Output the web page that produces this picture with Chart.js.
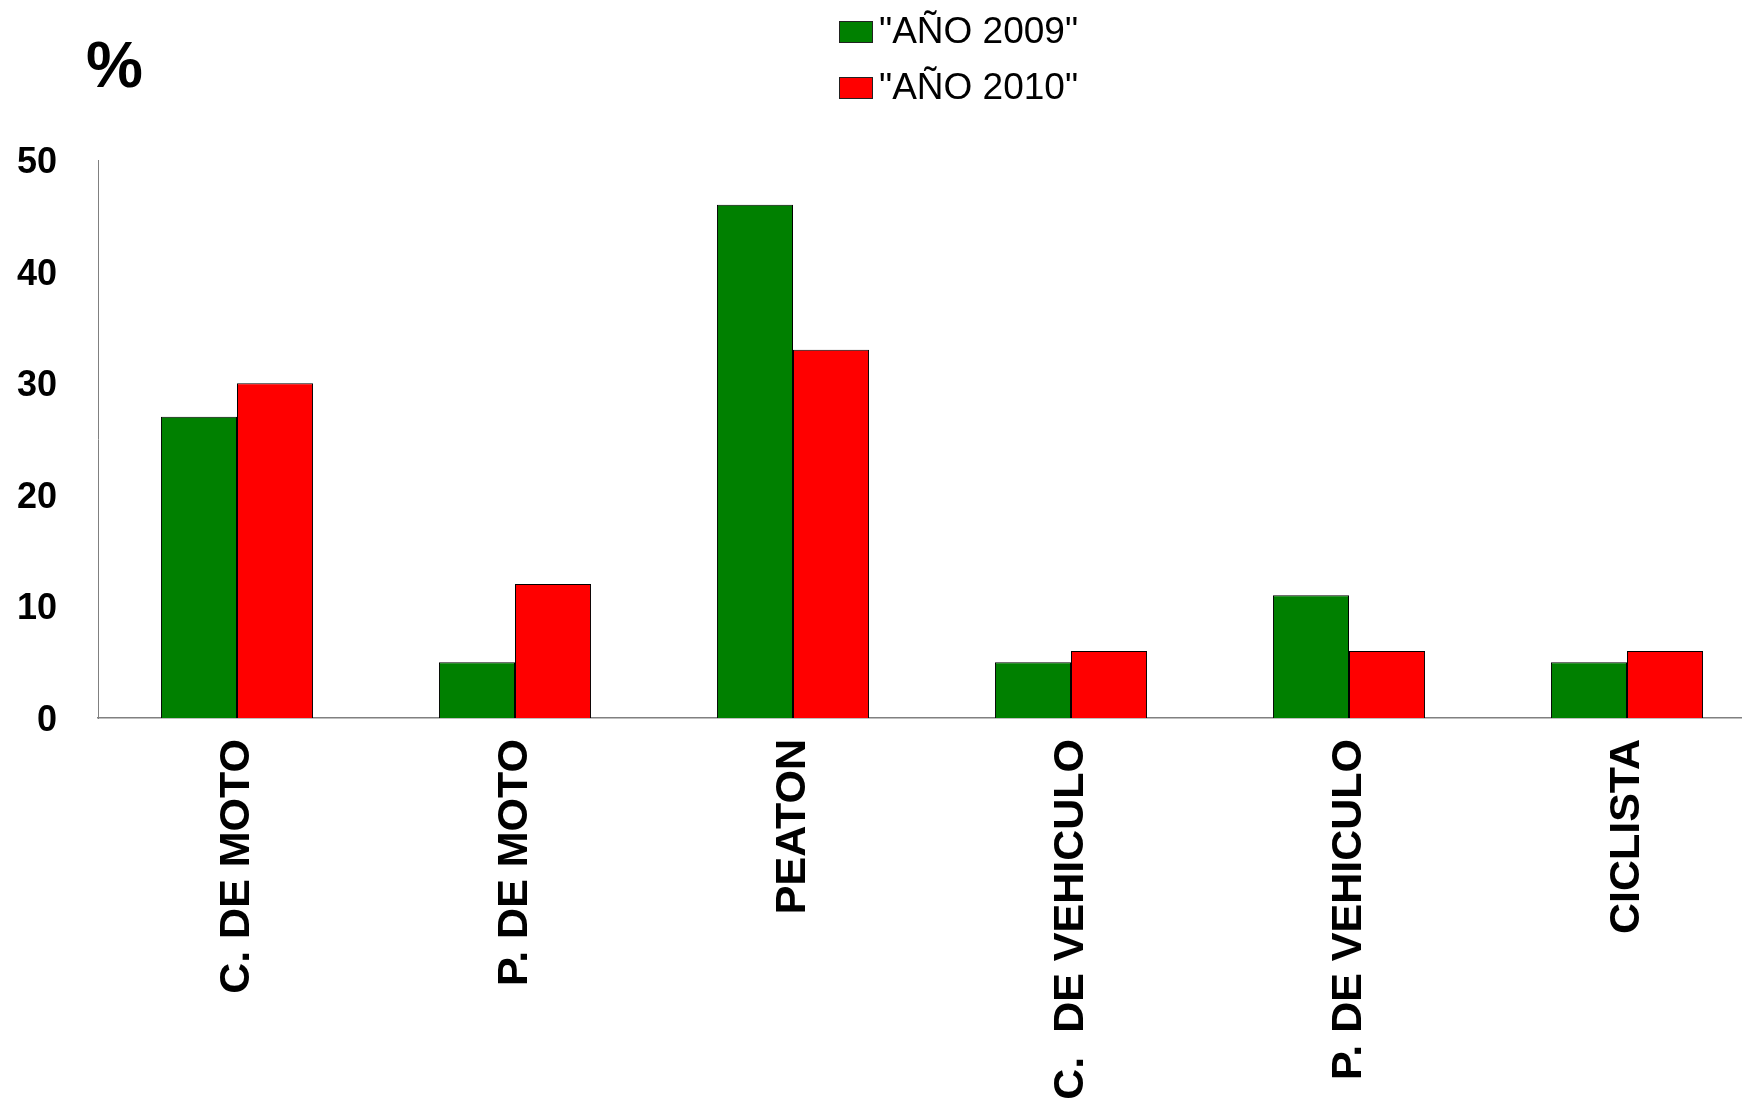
<!DOCTYPE html>
<html>
<head>
<meta charset="utf-8">
<script src="https://cdn.jsdelivr.net/npm/chart.js@4/dist/chart.umd.min.js"></script>
<style>
    html, body { margin: 0; padding: 0; background: #fff; overflow: hidden; }
    .frame { width: 1742px; height: 1102px; overflow: hidden; position: relative; }
    .chart-box { width: 1766px; height: 1102px; position: absolute; left: 0; top: 0; }
</style>
</head>
<body>
<div class="frame">
    <div class="chart-box"><canvas id="victimsChart"></canvas></div>
</div>
<script>
const categories = ["C. DE MOTO", "P. DE MOTO", "PEATON", "C.  DE VEHICULO", "P. DE VEHICULO", "CICLISTA"];
const seriesNames = ['"AÑO 2009"', '"AÑO 2010"'];
const values2009 = [27, 5, 46, 5, 11, 5];
const values2010 = [30, 12, 33, 6, 6, 6];
const yTicks = [0, 10, 20, 30, 40, 50];

const FONT = "'Liberation Sans', Arial, Helvetica, sans-serif";

// "%" sign and the two-row legend above the plot
const headerPlugin = {
    id: "header",
    afterDraw(chart) {
        const ctx = chart.ctx;
        const area = chart.chartArea;
        ctx.save();
        ctx.fillStyle = "#000";
        ctx.textBaseline = "alphabetic";
        ctx.textAlign = "left";
        ctx.font = "bold 64px " + FONT;
        ctx.fillText("%", area.left - 12, area.top - 73);

        const items = Chart.defaults.plugins.legend.labels.generateLabels(chart);
        const boxX = 839;
        ctx.font = "37px " + FONT;
        ctx.textBaseline = "middle";
        items.forEach((item, i) => {
            const cy = 32 + i * 56;
            ctx.fillStyle = item.fillStyle;
            ctx.fillRect(boxX, cy - 11, 34, 22);
            ctx.strokeStyle = "#222";
            ctx.lineWidth = 1;
            ctx.strokeRect(boxX + 0.5, cy - 10.5, 33, 21);
            ctx.fillStyle = "#000";
            ctx.fillText(item.text, boxX + 40, cy + 1);
        });
        ctx.restore();
    }
};

new Chart(document.getElementById("victimsChart"), {
    type: "bar",
    data: {
        labels: categories,
        datasets: [
            {
                label: seriesNames[0],
                data: values2009,
                backgroundColor: "#008000",
                borderColor: "#000",
                borderWidth: 1
            },
            {
                label: seriesNames[1],
                data: values2010,
                backgroundColor: "#ff0000",
                borderColor: "#000",
                borderWidth: 1
            }
        ]
    },
    options: {
        responsive: true,
        maintainAspectRatio: false,
        animation: false,
        datasets: {
            bar: {
                categoryPercentage: 0.547,
                barPercentage: 1
            }
        },
        layout: {
            padding: {left: 0, top: 160, right: 0, bottom: 0}
        },
        plugins: {
            legend: {display: false},
            title: {display: false},
            tooltip: {enabled: false}
        },
        scales: {
            x: {
                grid: {display: false, drawTicks: false},
                border: {display: true, color: "#808080", width: 1.5},
                afterFit(scale) {
                    scale.height = 384;
                },
                ticks: {
                    autoSkip: false,
                    maxRotation: 90,
                    minRotation: 90,
                    padding: 21,
                    color: "#000",
                    font: {family: FONT, size: 43, weight: "bold"}
                }
            },
            y: {
                min: yTicks[0],
                max: yTicks[yTicks.length - 1],
                grid: {display: false, drawTicks: false},
                border: {display: true, color: "#808080", width: 1},
                afterBuildTicks(scale) {
                    scale.ticks = yTicks.map(v => ({value: v}));
                },
                afterFit(scale) {
                    scale.width = 98;
                },
                ticks: {
                    padding: 41,
                    labelOffset: 3,
                    color: "#000",
                    font: {family: FONT, size: 36, weight: "bold"}
                }
            }
        }
    },
    plugins: [headerPlugin]
});
</script>
</body>
</html>
